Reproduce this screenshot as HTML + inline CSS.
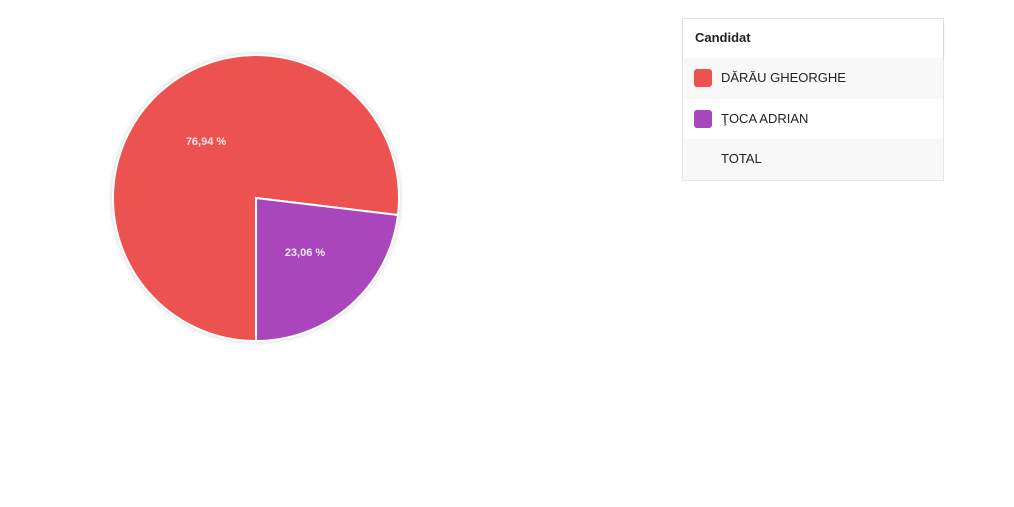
<!DOCTYPE html>
<html><head><meta charset="utf-8"><style>
body{margin:0;width:1014px;height:507px;background:#fff;font-family:"Liberation Sans",Arial,sans-serif;position:relative;overflow:hidden}
.leg{position:absolute;left:682px;top:18px;width:260px;border:1px solid #e6e6e6;}
.hd{height:39px;line-height:38px;padding-left:12px;font-weight:bold;font-size:13px;color:#222;box-shadow:0 2px 3px rgba(0,0,0,0.12);position:relative;background:#fff}
.row{height:40.5px;line-height:40px;font-size:13px;color:#222;position:relative;padding-left:38px}
.g{background:#f8f8f8}
.sw{position:absolute;left:11px;top:11px;width:18px;height:18px;border-radius:3px}
</style></head><body>
<svg width="1014" height="507" style="position:absolute;left:0;top:0">
<defs><filter id="sh" x="-10%" y="-10%" width="120%" height="120%"><feGaussianBlur stdDeviation="2"/></filter></defs>
<circle cx="256" cy="198" r="145" fill="#000" opacity="0.12" filter="url(#sh)"/>
<path d="M256,198 L256,341 A143,143 0 1 1 398,215 Z" fill="#ec5350" stroke="#fff" stroke-width="2"/>
<path d="M256,198 L398,215 A143,143 0 0 1 256,341 Z" fill="#a946bb" stroke="#fff" stroke-width="2"/>
<text x="206" y="145" font-size="11" font-weight="bold" fill="#fde8e8" text-anchor="middle" font-family="Liberation Sans,sans-serif">76,94 %</text>
<text x="305" y="256" font-size="11" font-weight="bold" fill="#f5e6f8" text-anchor="middle" font-family="Liberation Sans,sans-serif">23,06 %</text>
</svg>
<div class="leg">
<div class="hd">Candidat</div>
<div class="row g"><span class="sw" style="background:#ec5350"></span>DĂRĂU GHEORGHE</div>
<div class="row"><span class="sw" style="background:#a946bb"></span>ŢOCA ADRIAN</div>
<div class="row g">TOTAL</div>
</div>
</body></html>
